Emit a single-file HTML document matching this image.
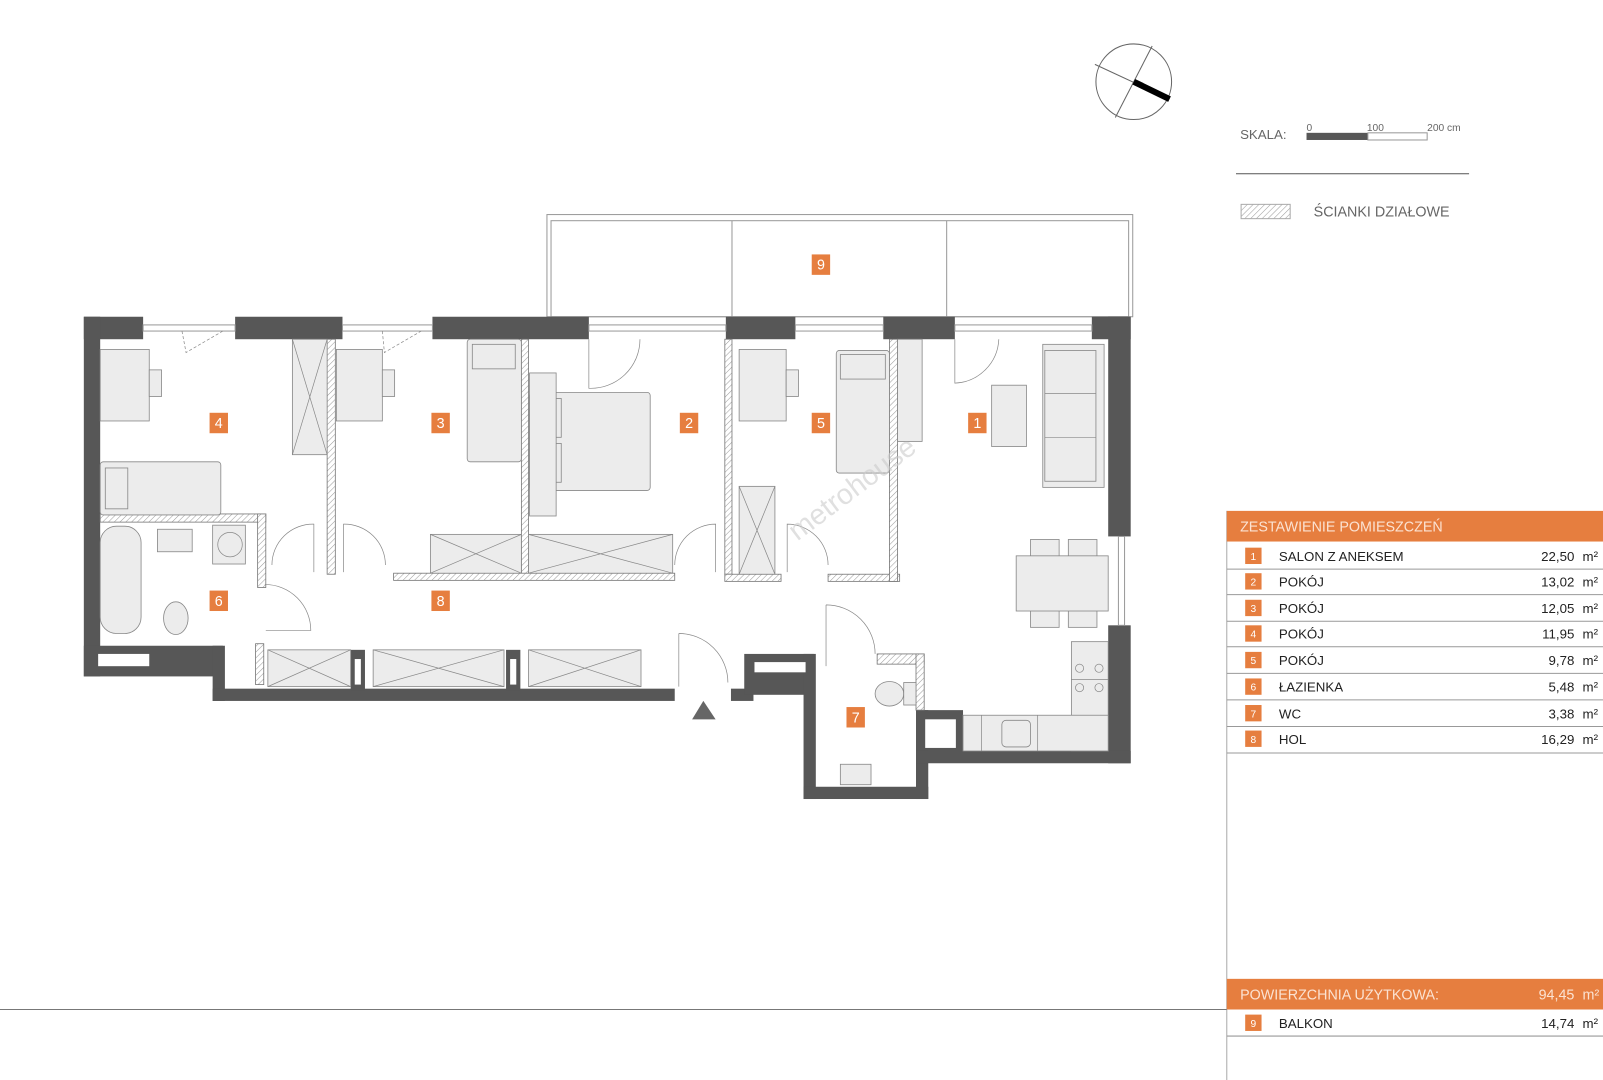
<!DOCTYPE html>
<html><head><meta charset="utf-8"><style>
html,body{margin:0;padding:0;background:#fff;width:1603px;height:1080px;overflow:hidden}
svg{display:block}
text{font-family:"Liberation Sans",Arial,sans-serif}
</style></head><body>
<svg width="1603" height="1080" viewBox="0 0 1568 1057" preserveAspectRatio="none" xmlns="http://www.w3.org/2000/svg">
<defs>
<pattern id="h" width="4" height="4" patternUnits="userSpaceOnUse" patternTransform="rotate(45)">
<rect width="4" height="4" fill="#fff"/><line x1="0" y1="0" x2="0" y2="4" stroke="#999" stroke-width="1"/></pattern>
</defs>
<g fill="none" stroke="#999" stroke-width="1">
<!-- balcony -->
<rect x="535" y="210" width="573" height="100"/>
<rect x="539" y="216" width="565" height="94"/>
<line x1="716" y1="216" x2="716" y2="310"/><line x1="926" y1="216" x2="926" y2="310"/>
</g>
<!-- walls -->
<g fill="#575757">
<rect x="82" y="310" width="58" height="22"/>
<rect x="230" y="310" width="105" height="22"/>
<rect x="423" y="310" width="153" height="22"/>
<rect x="710" y="310" width="68" height="22"/>
<rect x="864" y="310" width="70" height="22"/>
<rect x="1068" y="310" width="38" height="22"/>
<rect x="82" y="310" width="16" height="352"/>
<rect x="1084" y="310" width="22" height="215"/>
<rect x="1084" y="612" width="22" height="135"/>
<rect x="82" y="632" width="136" height="30"/>
<rect x="208" y="632" width="12" height="54"/>
<rect x="208" y="674" width="452" height="12"/>
<rect x="343" y="636" width="14" height="40"/>
<rect x="495" y="636" width="14" height="40"/>
<rect x="715" y="674" width="22" height="12"/>
<rect x="728" y="640" width="68" height="40"/>
<rect x="786" y="640" width="12" height="142"/>
<rect x="786" y="770" width="122" height="12"/>
<rect x="896" y="695" width="12" height="87"/>
<rect x="896" y="695" width="46" height="40"/>
<rect x="896" y="735" width="210" height="12"/>
</g>
<g fill="#fff">
<rect x="96" y="640" width="50" height="12"/>
<rect x="347" y="645" width="6" height="25"/>
<rect x="499" y="645" width="6" height="25"/>
<rect x="738" y="648" width="50" height="10"/>
<rect x="905" y="704" width="30" height="28"/>
</g>
<!-- windows -->
<g fill="#fff" stroke="#999" stroke-width="1">
<rect x="140" y="318" width="90" height="6"/><rect x="335" y="318" width="88" height="6"/>
<rect x="576" y="318" width="134" height="6"/><rect x="778" y="318" width="86" height="6"/>
<rect x="934" y="318" width="134" height="6"/><rect x="1094" y="525" width="6" height="87"/>
</g>
<!-- partition walls -->
<g fill="url(#h)" stroke="#777" stroke-width="0.8">
<rect x="320" y="332" width="8" height="230"/>
<rect x="98" y="503" width="162" height="8"/>
<rect x="252" y="503" width="8" height="72"/>
<rect x="510" y="332" width="7" height="230"/>
<rect x="385" y="561" width="275" height="7"/>
<rect x="709" y="332" width="7" height="230"/>
<rect x="709" y="562" width="55" height="7"/>
<rect x="810" y="562" width="70" height="7"/>
<rect x="870" y="332" width="8" height="237"/>
<rect x="250" y="630" width="8" height="40"/>
<rect x="858" y="640" width="46" height="10"/>
<rect x="896" y="640" width="8" height="55"/>
</g>
<!-- furniture -->
<g fill="#ececec" stroke="#888" stroke-width="0.8">
<rect x="98" y="342" width="48" height="70"/><rect x="146" y="362" width="12" height="26"/>
<rect x="286" y="332" width="34" height="113"/>
<rect x="98" y="452" width="118" height="52" rx="3"/><rect x="103" y="458" width="22" height="40"/>
<rect x="98" y="515" width="40" height="105" rx="16"/>
<rect x="154" y="518" width="34" height="22"/><rect x="208" y="514" width="32" height="38"/>
<ellipse cx="172" cy="605" rx="12" ry="16"/>
<rect x="329" y="342" width="45" height="70"/><rect x="374" y="362" width="12" height="26"/>
<rect x="457" y="332" width="53" height="120" rx="3"/><rect x="462" y="337" width="42" height="24"/>
<rect x="518" y="384" width="118" height="96" rx="3"/><rect x="523" y="390" width="26" height="38"/><rect x="523" y="434" width="26" height="38"/>
<rect x="518" y="365" width="26" height="140"/>
<rect x="421" y="523" width="89" height="38"/><rect x="517" y="523" width="141" height="38"/>
<rect x="723" y="342" width="46" height="70"/><rect x="769" y="362" width="12" height="26"/>
<rect x="818" y="343" width="52" height="120" rx="3"/><rect x="822" y="347" width="44" height="24"/>
<rect x="878" y="332" width="24" height="100"/>
<rect x="723" y="476" width="35" height="86"/>
<rect x="970" y="377" width="34" height="60"/>
<rect x="1020" y="337" width="60" height="140"/><rect x="1022" y="343" width="50" height="128"/>
<rect x="1008" y="528" width="28" height="86"/><rect x="1045" y="528" width="28" height="86"/>
<rect x="994" y="544" width="90" height="54"/>
<rect x="1048" y="628" width="36" height="107"/>
<rect x="942" y="700" width="142" height="35"/>
<rect x="980" y="705" width="28" height="26" rx="4"/>
<rect x="262" y="636" width="81" height="36"/><rect x="365" y="636" width="128" height="36"/><rect x="517" y="636" width="110" height="36"/>
<ellipse cx="870" cy="679" rx="14" ry="12"/><rect x="884" y="668" width="12" height="22"/>
<rect x="822" y="748" width="30" height="20"/>
</g>
<g stroke="#888" stroke-width="0.7" fill="none">
<path d="M286 332L320 445M320 332L286 445M421 523L510 561M510 523L421 561M517 523L658 561M658 523L517 561M723 476L758 562M758 476L723 562M262 636L343 672M343 636L262 672M365 636L493 672M493 636L365 672M517 636L627 672M627 636L517 672"/>
<path d="M1022 385H1072M1022 428H1072M1048 665H1084M960 700V735M1015 700V735"/>
<circle cx="1056" cy="654" r="4"/><circle cx="1075" cy="654" r="4"/><circle cx="1056" cy="673" r="4"/><circle cx="1075" cy="673" r="4"/>
<circle cx="225" cy="533" r="12"/>
<!-- door swings -->
<path d="M307 560V513A40 40 0 0 0 266 553"/><path d="M336 560V513A40 40 0 0 1 377 553"/>
<path d="M700 560V513A40 40 0 0 0 660 553"/><path d="M770 560V513A40 40 0 0 1 810 553"/>
<path d="M259 572A45 45 0 0 1 304 617H260"/>
<path d="M664 620V672M664 620A48 48 0 0 1 712 668"/>
<path d="M808 592V652M808 592A48 48 0 0 1 856 640"/>
<path d="M576 332V380A48 48 0 0 0 626 332"/>
<path d="M934 332V375A45 45 0 0 0 977 332"/>
<path d="M178 324L182 345L218 324M374 324L376 345L412 324" stroke-dasharray="3 2"/>
</g>
<!-- entrance -->
<polygon points="688,686 677,704 700,704" fill="#666"/>
<text x="780" y="530" transform="rotate(-37 780 530)" font-size="28" fill="#ccc" opacity="0.6">metrohouse</text>
<!-- room labels -->
<g font-size="14" fill="#fff" text-anchor="middle">
<g fill="#e67e3f"><rect x="205" y="404" width="18" height="20"/><rect x="422" y="404" width="18" height="20"/><rect x="665" y="404" width="18" height="20"/><rect x="794" y="404" width="18" height="20"/><rect x="947" y="404" width="18" height="20"/><rect x="205" y="578" width="18" height="20"/><rect x="422" y="578" width="18" height="20"/><rect x="828" y="692" width="18" height="20"/><rect x="794" y="249" width="18" height="20"/></g>
<text x="214" y="419">4</text><text x="431" y="419">3</text><text x="674" y="419">2</text><text x="803" y="419">5</text><text x="956" y="419">1</text><text x="214" y="593">6</text><text x="431" y="593">8</text><text x="837" y="707">7</text><text x="803" y="264">9</text>
</g>
<!-- compass -->
<circle cx="1109" cy="80" r="37" fill="none" stroke="#666"/>
<line x1="1071" y1="63" x2="1144" y2="97" stroke="#666"/><line x1="1127" y1="45" x2="1091" y2="115" stroke="#666"/>
<line x1="1109" y1="80" x2="1144" y2="97" stroke="#000" stroke-width="6"/>
<!-- scale -->
<text x="1213" y="136" font-size="13" fill="#666">SKALA:</text>
<text x="1278" y="128" font-size="10" fill="#666">0</text><text x="1337" y="128" font-size="10" fill="#666">100</text><text x="1396" y="128" font-size="10" fill="#666">200 cm</text>
<rect x="1278" y="130" width="60" height="7" fill="#575757"/><rect x="1338" y="130" width="58" height="7" fill="#fff" stroke="#999"/>
<line x1="1209" y1="170" x2="1437" y2="170" stroke="#555"/>
<rect x="1214" y="200" width="48" height="14" fill="url(#h)" stroke="#aaa"/>
<text x="1285" y="212" font-size="14" fill="#666">ŚCIANKI DZIAŁOWE</text>
<!-- table -->
<line x1="1200" y1="500" x2="1200" y2="1057" stroke="#aaa"/>
<line x1="0" y1="988" x2="1200" y2="988" stroke="#777"/>
<rect x="1200" y="500" width="368" height="30" fill="#e67e3f"/>
<text x="1213" y="520" font-size="14" fill="#fbe2d2">ZESTAWIENIE POMIESZCZEŃ</text>
<g stroke="#999" stroke-width="1"><line x1="1200" y1="557" x2="1568" y2="557"/><line x1="1200" y1="582" x2="1568" y2="582"/><line x1="1200" y1="608" x2="1568" y2="608"/><line x1="1200" y1="633" x2="1568" y2="633"/><line x1="1200" y1="659" x2="1568" y2="659"/><line x1="1200" y1="685" x2="1568" y2="685"/><line x1="1200" y1="711" x2="1568" y2="711"/><line x1="1200" y1="737" x2="1568" y2="737"/><line x1="1200" y1="1014" x2="1568" y2="1014"/></g>
<g fill="#e67e3f"><rect x="1218" y="536" width="16" height="16"/><rect x="1218" y="561" width="16" height="16"/><rect x="1218" y="587" width="16" height="16"/><rect x="1218" y="612" width="16" height="16"/><rect x="1218" y="638" width="16" height="16"/><rect x="1218" y="664" width="16" height="16"/><rect x="1218" y="690" width="16" height="16"/><rect x="1218" y="715" width="16" height="16"/><rect x="1218" y="993" width="16" height="16"/></g>
<g font-size="10" fill="#fff" text-anchor="middle"><text x="1226" y="548">1</text><text x="1226" y="573">2</text><text x="1226" y="599">3</text><text x="1226" y="624">4</text><text x="1226" y="650">5</text><text x="1226" y="676">6</text><text x="1226" y="702">7</text><text x="1226" y="727">8</text><text x="1226" y="1005">9</text></g>
<g font-size="13" fill="#222"><text x="1251" y="549">SALON Z ANEKSEM</text><text x="1251" y="574">POKÓJ</text><text x="1251" y="600">POKÓJ</text><text x="1251" y="625">POKÓJ</text><text x="1251" y="651">POKÓJ</text><text x="1251" y="677">ŁAZIENKA</text><text x="1251" y="703">WC</text><text x="1251" y="728">HOL</text><text x="1251" y="1006">BALKON</text></g>
<g font-size="13" fill="#222" text-anchor="end"><text x="1540" y="549">22,50</text><text x="1540" y="574">13,02</text><text x="1540" y="600">12,05</text><text x="1540" y="625">11,95</text><text x="1540" y="651">9,78</text><text x="1540" y="677">5,48</text><text x="1540" y="703">3,38</text><text x="1540" y="728">16,29</text><text x="1540" y="1006">14,74</text></g>
<g font-size="13" fill="#222"><text x="1548" y="549">m²</text><text x="1548" y="574">m²</text><text x="1548" y="600">m²</text><text x="1548" y="625">m²</text><text x="1548" y="651">m²</text><text x="1548" y="677">m²</text><text x="1548" y="703">m²</text><text x="1548" y="728">m²</text><text x="1548" y="1006">m²</text></g>
<rect x="1200" y="958" width="368" height="30" fill="#e67e3f"/>
<text x="1213" y="978" font-size="14" fill="#fbe2d2">POWIERZCHNIA UŻYTKOWA:</text>
<text x="1540" y="978" font-size="14" fill="#fbe2d2" text-anchor="end">94,45</text><text x="1548" y="978" font-size="14" fill="#fbe2d2">m²</text>
</svg>
</body></html>
